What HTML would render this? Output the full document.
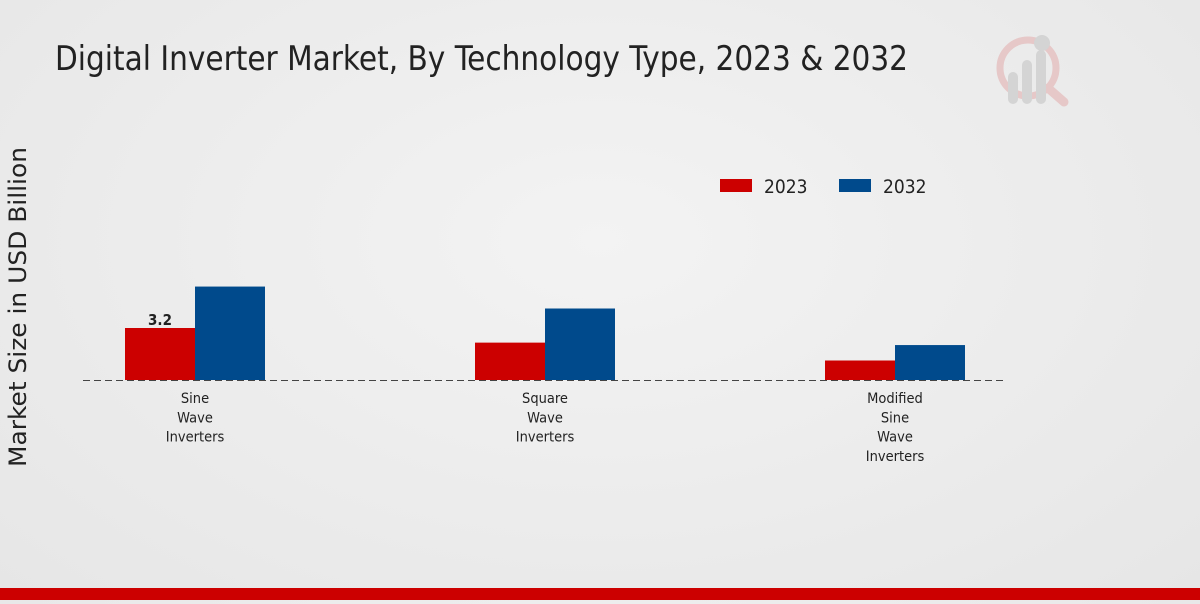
<!DOCTYPE html>
<html><head><meta charset="utf-8"><style>
html,body{margin:0;padding:0}
body{width:1200px;height:600px;overflow:hidden;background:radial-gradient(ellipse at 50% 40%,#f3f3f3 0%,#e6e6e6 100%);font-family:"Liberation Sans Narrow","DejaVu Sans Condensed","Liberation Sans",sans-serif}
</style></head><body>
<svg id="chart" width="1200" height="600" xmlns="http://www.w3.org/2000/svg">
<text x="55" y="70" font-size="34" fill="#222" textLength="853" lengthAdjust="spacingAndGlyphs">Digital Inverter Market, By Technology Type, 2023 &amp; 2032</text>
<g opacity="0.35">
<circle cx="1028" cy="68" r="28" fill="none" stroke="#d88" stroke-width="7"/>
<line x1="1048" y1="88" x2="1064" y2="102" stroke="#d88" stroke-width="9" stroke-linecap="round"/>
<rect x="1008" y="72" width="10" height="32" rx="5" fill="#aaa"/>
<rect x="1022" y="60" width="10" height="44" rx="5" fill="#aaa"/>
<rect x="1036" y="50" width="10" height="54" rx="5" fill="#aaa"/>
<circle cx="1042" cy="43" r="8" fill="#aaa"/>
</g>
<text transform="translate(26,307) rotate(-90)" text-anchor="middle" font-size="24" fill="#222" font-family="DejaVu Sans,sans-serif" textLength="320" lengthAdjust="spacingAndGlyphs">Market Size in USD Billion</text>
<g>
<rect x="720" y="179" width="32" height="13" fill="#cc0000"/>
<text x="764" y="193" font-size="19" fill="#222">2023</text>
<rect x="839" y="179" width="32" height="13" fill="#004a8c"/>
<text x="883" y="193" font-size="19" fill="#222">2032</text>
</g>
<g id="bars"></g>
<line x1="83" y1="380.5" x2="1007" y2="380.5" stroke="#444" stroke-dasharray="7,4" stroke-width="1"/>
<g id="labels"></g>
<rect x="0" y="588" width="1200" height="12" fill="#cc0000"/>
</svg>
<script>
const categories=[["Sine","Wave","Inverters"],["Square","Wave","Inverters"],["Modified","Sine","Wave","Inverters"]];
const values2023=[3.2,2.3,1.2];
const values2032=[5.75,4.4,2.15];
const valueLabels=["3.2","",""];
const ns="http://www.w3.org/2000/svg";
const base=380, scale=16.25, x0=195, step=350, bw=70;
const y=v=>base-v*scale;
const xc=i=>x0+i*step;
const bars=document.getElementById('bars'), labels=document.getElementById('labels');
function mk(t,a){const e=document.createElementNS(ns,t);for(const k in a)e.setAttribute(k,a[k]);return e;}
categories.forEach((c,i)=>{
  const r1=mk('rect',{x:xc(i)-bw,y:y(values2023[i]),width:bw,height:values2023[i]*scale,fill:'#cc0000'});
  
  
  bars.appendChild(r1);
  const r2=mk('rect',{x:xc(i),y:y(values2032[i]),width:bw,height:values2032[i]*scale,fill:'#004a8c'});
  
  
  bars.appendChild(r2);
  if(valueLabels[i]){
    const t=mk('text',{x:xc(i)-bw/2,y:y(values2023[i])-3,'text-anchor':'middle','font-size':'15','font-weight':'bold',fill:'#222'});
    t.textContent=valueLabels[i];
    
    
    labels.appendChild(t);
  }
  c.forEach((line,j)=>{
    const t=mk('text',{x:xc(i),y:403+j*19.3,'text-anchor':'middle','font-size':'14.5',fill:'#222'});
    t.textContent=line;
    
    
    labels.appendChild(t);
  });
});
</script>
</body></html>
